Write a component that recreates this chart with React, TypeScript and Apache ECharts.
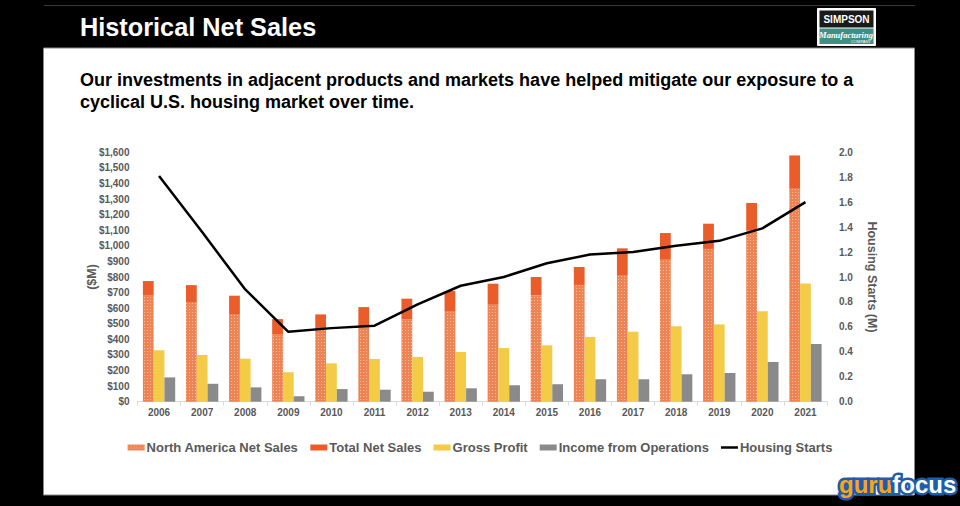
import React, { useEffect, useRef } from "react";
import * as echarts from "echarts";

const years = ["2006","2007","2008","2009","2010","2011","2012","2013","2014","2015","2016","2017","2018","2019","2020","2021"];
const naNetSales = [680, 635, 558, 434, 462, 481, 528, 582, 622, 682, 749, 808, 915, 980, 1101, 1366];
const totalNetSales = [774, 748, 680, 530, 560, 607, 661, 710, 757, 800, 864, 984, 1082, 1142, 1275, 1580];
const grossProfit = [330, 300, 276, 189, 246, 274, 287, 319, 344, 362, 415, 449, 484, 496, 580, 759];
const incomeOps = [156, 115, 92, 35, 81, 77, 64, 86, 105, 112, 144, 144, 176, 184, 255, 370];
const housingStarts = [1.81, 1.36, 0.90, 0.56, 0.59, 0.61, 0.78, 0.93, 1.00, 1.11, 1.18, 1.20, 1.25, 1.29, 1.39, 1.60];

const FONT = "'Liberation Sans', Arial, sans-serif";
const GRAY = "#595959";

export default function App() {
  const ref = useRef<HTMLDivElement>(null);
  useEffect(() => {
    document.body.style.margin = "0";
    const chart = echarts.init(ref.current!, null, { renderer: "svg" });
    const topPart = totalNetSales.map((t, i) => +(t - naNetSales[i]).toFixed(1));
    const axisLabel = { color: GRAY, fontWeight: "bold", fontSize: 10, fontFamily: FONT };
    chart.setOption({
      animation: false,
      backgroundColor: "#000",
      graphic: [
        { type: "line", shape: { x1: 44, y1: 5.5, x2: 915, y2: 5.5 }, style: { stroke: "#3a3a3a", lineWidth: 1 } },
        { type: "rect", shape: { x: 43.5, y: 48, width: 871, height: 447 }, style: { fill: "#fff", stroke: "#8a8a8a", lineWidth: 1 } },
        { type: "text", x: 80, y: 27, style: { text: "Historical Net Sales", fill: "#fff", font: `bold 25.3px ${FONT}`, align: "left", verticalAlign: "middle" } },
        { type: "text", x: 80, y: 91, style: { text: "Our investments in adjacent products and markets have helped mitigate our exposure to a\ncyclical U.S. housing market over time.", fill: "#000", font: `bold 18px ${FONT}`, lineHeight: 22, align: "left", verticalAlign: "middle" } },
        // Simpson logo
        { type: "rect", shape: { x: 817.5, y: 8.5, width: 58, height: 37 }, style: { fill: "#fff", stroke: "#fff" } },
        { type: "rect", shape: { x: 819.5, y: 10.5, width: 54, height: 17 }, style: { fill: "#1a1a1a" } },
        { type: "rect", shape: { x: 819.5, y: 28.5, width: 54, height: 15.5 }, style: { fill: "#3e8f86" } },
        { type: "text", x: 846.5, y: 19, style: { text: "SIMPSON", fill: "#fff", font: `bold 10px ${FONT}`, align: "center", verticalAlign: "middle" } },
        { type: "text", x: 846, y: 34.5, style: { text: "Manufacturing", fill: "#fff", font: "italic bold 8.5px 'Liberation Serif', serif", align: "center", verticalAlign: "middle" } },
        { type: "text", x: 871, y: 41, style: { text: "COMPANY", fill: "#fff", font: `4px ${FONT}`, align: "right", verticalAlign: "middle" } },
        // gurufocus logo
        { type: "text", x: 839, y: 484, style: { text: "{a|guru}{b|focus}", align: "left", verticalAlign: "middle",
            rich: {
              a: { fill: "#f6a51c", font: `bold 24px ${FONT}`, stroke: "#1d5daa", lineWidth: 5, strokeFirst: true },
              b: { fill: "#fff", font: `bold 24px ${FONT}`, stroke: "#1d5daa", lineWidth: 5, strokeFirst: true },
            } } },
      ],
      grid: { left: 137.5, right: 133, top: 152.3, bottom: 104.3 },
      legend: {
        left: "center",
        top: 436,
        itemWidth: 17,
        itemHeight: 6,
        itemGap: 12,
        textStyle: { color: GRAY, fontWeight: "bold", fontSize: 13, fontFamily: FONT, padding: [0, 0, 0, -3] },
        data: [
          { name: "North America Net Sales", icon: "rect" },
          { name: "Total Net Sales", icon: "rect" },
          { name: "Gross Profit", icon: "rect" },
          { name: "Income from Operations", icon: "rect" },
          { name: "Housing Starts", icon: "path://M0,0H17V2.5H0Z" },
        ],
      },
      xAxis: {
        type: "category",
        data: years,
        axisLine: { lineStyle: { color: "#d9d9d9", width: 1 } },
        axisTick: { show: true, length: 4, lineStyle: { color: "#d9d9d9" } },
        axisLabel: { ...axisLabel, margin: 6 },
      },
      yAxis: [
        {
          type: "value", min: 0, max: 1600, interval: 100,
          name: "($M)", nameLocation: "middle", nameRotate: 90, nameGap: 39, nameMoveOverlap: false,
          nameTextStyle: { color: GRAY, fontWeight: "bold", fontSize: 12.5, fontFamily: FONT },
          axisLine: { show: false }, axisTick: { show: false }, splitLine: { show: false },
          axisLabel: { ...axisLabel, margin: 8, formatter: (v: number) => "$" + v.toLocaleString("en-US") },
        },
        {
          type: "value", min: 0, max: 2, interval: 0.2,
          name: "Housing Starts (M)", nameLocation: "middle", nameRotate: -90, nameGap: 38, nameMoveOverlap: false,
          nameTextStyle: { color: GRAY, fontWeight: "bold", fontSize: 12.5, fontFamily: FONT },
          axisLine: { show: false }, axisTick: { show: false }, splitLine: { show: false },
          axisLabel: { ...axisLabel, margin: 12, formatter: (v: number) => v.toFixed(1) },
        },
      ],
      series: [
        {
          name: "North America Net Sales", type: "bar", stack: "sales", data: naNetSales,
          barGap: "0%", barCategoryGap: "25%",
          itemStyle: { color: "#ee8453", decal: { symbol: "rect", symbolSize: 1, color: "rgba(255,255,255,0.45)", dashArrayX: [1, 2], dashArrayY: [1, 2], rotation: 0 } },
        },
        { name: "Total Net Sales", type: "bar", stack: "sales", data: topPart, itemStyle: { color: "#ea5d2b" } },
        { name: "Gross Profit", type: "bar", data: grossProfit, itemStyle: { color: "#f3cb46" } },
        { name: "Income from Operations", type: "bar", data: incomeOps, itemStyle: { color: "#8a8a8a" } },
        {
          name: "Housing Starts", type: "line", yAxisIndex: 1, data: housingStarts,
          symbol: "none", lineStyle: { color: "#000", width: 2.5 }, itemStyle: { color: "#000" }, z: 5,
        },
      ],
    });
    return () => chart.dispose();
  }, []);
  return <div ref={ref} style={{ position: "absolute", left: 0, top: 0, width: 960, height: 506 }} />;
}
